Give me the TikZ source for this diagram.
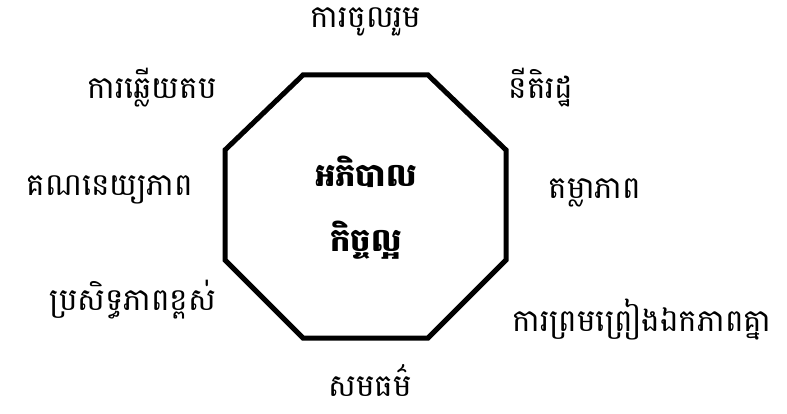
\documentclass[tikz,border=0pt]{standalone}
\usepackage{fontspec}
\newfontfamily\khmerfont[Script=Khmer]{Battambang}
\definecolor{edgeA}{HTML}{000000}

\begin{document}
\begin{tikzpicture}[x=1pt,y=-1pt,line cap=round,line join=miter]

  \useasboundingbox (0,0) rectangle (787,414);

  % octagon (drawn point by point)
  \draw[edgeA,line width=5pt]
    (303,75) -- (428,75) -- (506,150) -- (506,260) -- (428,338)
    -- (303,338) -- (225,260) -- (225,150) -- cycle;

  % centre title
  \node[font=\khmerfont\bfseries\fontsize{32}{32}\selectfont] (titleA) at (366,172) {អភិបាល};
  \node[font=\khmerfont\bfseries\fontsize{32}{32}\selectfont] (titleB) at (366,240) {កិច្ចល្អ};

  % the eight principles round it
  \begin{scope}[every node/.style={font=\khmerfont\fontsize{31}{31}\selectfont,inner sep=0pt}]
    \node (partic) at (366,22)  {ការចូលរួម};
    \node (rulelaw) at (541,88) {នីតិរដ្ឋ};
    \node (transp) at (595,193) {តម្លាភាព};
    \node (consens) at (642,320) {ការព្រមព្រៀងឯកភាពគ្នា};
    \node (equity) at (370,380) {សមធម៌};
    \node (effect) at (133,300) {ប្រសិទ្ធភាពខ្ពស់};
    \node (account) at (110,190) {គណនេយ្យភាព};
    \node (respons) at (152,88) {ការឆ្លើយតប};
  \end{scope}

\end{tikzpicture}
\end{document}
